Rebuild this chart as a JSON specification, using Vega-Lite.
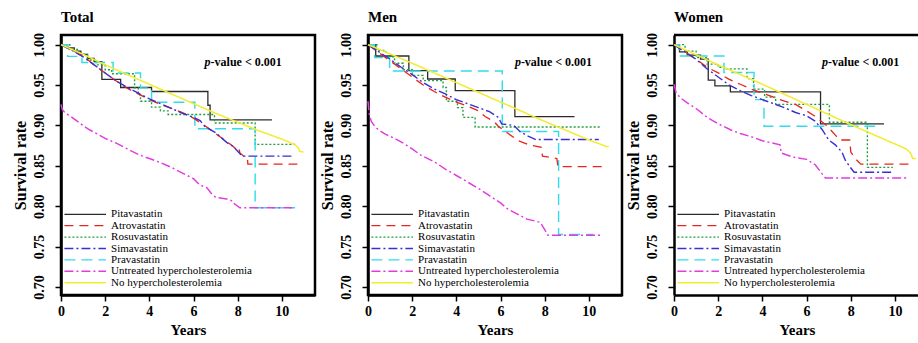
{
"$schema": "https://vega.github.io/schema/vega-lite/v6.json",
"padding": {"left": 10, "top": 9, "right": 0, "bottom": 5},
"background": "white",
"spacing": 0,
"config": {
  "font": "Liberation Serif",
  "view": {"stroke": "black", "strokeWidth": 2.5},
  "axis": {"grid": false, "labelFont": "Liberation Serif", "labelFontWeight": "bold", "labelFontSize": 14, "labelColor": "black", "titleFont": "Liberation Serif", "titleFontWeight": "bold", "titleColor": "black", "tickColor": "black", "tickWidth": 1.5, "tickSize": 6, "domainColor": "black", "domainWidth": 2.5, "labelFlush": false},
  "axisY": {"labelPadding": 9},
  "title": {"anchor": "start", "frame": "group", "fontSize": 15, "font": "Liberation Serif", "fontWeight": "bold", "color": "black", "offset": 7},
  "text": {"font": "Liberation Serif"},
  "legend": {"labelFont": "Liberation Serif", "labelFontSize": 11, "labelColor": "black"}
},
"datasets": {"km": [
{"p":"Total","g":"Pitavastatin","t":0,"s":1},{"p":"Total","g":"Pitavastatin","t":0.3,"s":0.996},{"p":"Total","g":"Pitavastatin","t":0.6,"s":0.992},{"p":"Total","g":"Pitavastatin","t":0.9,"s":0.988},{"p":"Total","g":"Pitavastatin","t":1.2,"s":0.983},{"p":"Total","g":"Pitavastatin","t":1.5,"s":0.979},{"p":"Total","g":"Pitavastatin","t":1.85,"s":0.957},{"p":"Total","g":"Pitavastatin","t":2.7,"s":0.947},{"p":"Total","g":"Pitavastatin","t":4.1,"s":0.942},{"p":"Total","g":"Pitavastatin","t":6.65,"s":0.925},{"p":"Total","g":"Pitavastatin","t":6.75,"s":0.907},{"p":"Total","g":"Pitavastatin","t":9.55,"s":0.907},
{"p":"Total","g":"Atrovastatin","t":0,"s":1},{"p":"Total","g":"Atrovastatin","t":0.5,"s":0.993},{"p":"Total","g":"Atrovastatin","t":1,"s":0.986},{"p":"Total","g":"Atrovastatin","t":1.5,"s":0.975},{"p":"Total","g":"Atrovastatin","t":2,"s":0.965},{"p":"Total","g":"Atrovastatin","t":2.5,"s":0.955},{"p":"Total","g":"Atrovastatin","t":3,"s":0.946},{"p":"Total","g":"Atrovastatin","t":3.5,"s":0.939},{"p":"Total","g":"Atrovastatin","t":4,"s":0.932},{"p":"Total","g":"Atrovastatin","t":4.5,"s":0.926},{"p":"Total","g":"Atrovastatin","t":5,"s":0.921},{"p":"Total","g":"Atrovastatin","t":5.5,"s":0.916},{"p":"Total","g":"Atrovastatin","t":6,"s":0.909},{"p":"Total","g":"Atrovastatin","t":6.5,"s":0.9},{"p":"Total","g":"Atrovastatin","t":7,"s":0.89},{"p":"Total","g":"Atrovastatin","t":7.5,"s":0.88},{"p":"Total","g":"Atrovastatin","t":7.8,"s":0.874},{"p":"Total","g":"Atrovastatin","t":7.95,"s":0.87},{"p":"Total","g":"Atrovastatin","t":8.05,"s":0.872},{"p":"Total","g":"Atrovastatin","t":8.1,"s":0.866},{"p":"Total","g":"Atrovastatin","t":8.35,"s":0.86},{"p":"Total","g":"Atrovastatin","t":8.44,"s":0.86},{"p":"Total","g":"Atrovastatin","t":8.46,"s":0.852},{"p":"Total","g":"Atrovastatin","t":10.7,"s":0.852},
{"p":"Total","g":"Rosuvastatin","t":0,"s":1},{"p":"Total","g":"Rosuvastatin","t":0.4,"s":0.994},{"p":"Total","g":"Rosuvastatin","t":0.8,"s":0.988},{"p":"Total","g":"Rosuvastatin","t":1.2,"s":0.981},{"p":"Total","g":"Rosuvastatin","t":1.6,"s":0.975},{"p":"Total","g":"Rosuvastatin","t":2,"s":0.969},{"p":"Total","g":"Rosuvastatin","t":2.3,"s":0.964},{"p":"Total","g":"Rosuvastatin","t":3.33,"s":0.9465},{"p":"Total","g":"Rosuvastatin","t":3.5,"s":0.938},{"p":"Total","g":"Rosuvastatin","t":3.6,"s":0.93},{"p":"Total","g":"Rosuvastatin","t":4.1,"s":0.9226},{"p":"Total","g":"Rosuvastatin","t":4.5,"s":0.918},{"p":"Total","g":"Rosuvastatin","t":4.85,"s":0.9136},{"p":"Total","g":"Rosuvastatin","t":6.95,"s":0.903},{"p":"Total","g":"Rosuvastatin","t":8.79,"s":0.8766},{"p":"Total","g":"Rosuvastatin","t":10.6,"s":0.8766},
{"p":"Total","g":"Simavastatin","t":0,"s":1},{"p":"Total","g":"Simavastatin","t":0.5,"s":0.993},{"p":"Total","g":"Simavastatin","t":1,"s":0.985},{"p":"Total","g":"Simavastatin","t":1.5,"s":0.975},{"p":"Total","g":"Simavastatin","t":2,"s":0.965},{"p":"Total","g":"Simavastatin","t":2.5,"s":0.955},{"p":"Total","g":"Simavastatin","t":3,"s":0.947},{"p":"Total","g":"Simavastatin","t":3.5,"s":0.94},{"p":"Total","g":"Simavastatin","t":4,"s":0.933},{"p":"Total","g":"Simavastatin","t":4.5,"s":0.927},{"p":"Total","g":"Simavastatin","t":5,"s":0.921},{"p":"Total","g":"Simavastatin","t":5.5,"s":0.915},{"p":"Total","g":"Simavastatin","t":6,"s":0.91},{"p":"Total","g":"Simavastatin","t":6.3,"s":0.906},{"p":"Total","g":"Simavastatin","t":6.5,"s":0.899},{"p":"Total","g":"Simavastatin","t":7,"s":0.891},{"p":"Total","g":"Simavastatin","t":7.5,"s":0.879},{"p":"Total","g":"Simavastatin","t":7.8,"s":0.874},{"p":"Total","g":"Simavastatin","t":8,"s":0.868},{"p":"Total","g":"Simavastatin","t":8.2,"s":0.862},{"p":"Total","g":"Simavastatin","t":10.55,"s":0.862},
{"p":"Total","g":"Pravastatin","t":0,"s":1},{"p":"Total","g":"Pravastatin","t":0.3,"s":0.9855},{"p":"Total","g":"Pravastatin","t":0.95,"s":0.978},{"p":"Total","g":"Pravastatin","t":2.36,"s":0.965},{"p":"Total","g":"Pravastatin","t":3.6,"s":0.9465},{"p":"Total","g":"Pravastatin","t":4.1,"s":0.9287},{"p":"Total","g":"Pravastatin","t":6.06,"s":0.896},{"p":"Total","g":"Pravastatin","t":8.79,"s":0.798},{"p":"Total","g":"Pravastatin","t":10.6,"s":0.798},
{"p":"Total","g":"Untreated hypercholesterolemia","t":0,"s":0.926},{"p":"Total","g":"Untreated hypercholesterolemia","t":0.05,"s":0.92},{"p":"Total","g":"Untreated hypercholesterolemia","t":0.2,"s":0.915},{"p":"Total","g":"Untreated hypercholesterolemia","t":0.45,"s":0.911},{"p":"Total","g":"Untreated hypercholesterolemia","t":0.8,"s":0.904},{"p":"Total","g":"Untreated hypercholesterolemia","t":1.2,"s":0.896},{"p":"Total","g":"Untreated hypercholesterolemia","t":1.6,"s":0.89},{"p":"Total","g":"Untreated hypercholesterolemia","t":2,"s":0.884},{"p":"Total","g":"Untreated hypercholesterolemia","t":2.5,"s":0.878},{"p":"Total","g":"Untreated hypercholesterolemia","t":3,"s":0.871},{"p":"Total","g":"Untreated hypercholesterolemia","t":3.5,"s":0.864},{"p":"Total","g":"Untreated hypercholesterolemia","t":4,"s":0.859},{"p":"Total","g":"Untreated hypercholesterolemia","t":4.5,"s":0.854},{"p":"Total","g":"Untreated hypercholesterolemia","t":5,"s":0.848},{"p":"Total","g":"Untreated hypercholesterolemia","t":5.5,"s":0.841},{"p":"Total","g":"Untreated hypercholesterolemia","t":6,"s":0.834},{"p":"Total","g":"Untreated hypercholesterolemia","t":6.3,"s":0.826},{"p":"Total","g":"Untreated hypercholesterolemia","t":6.6,"s":0.823},{"p":"Total","g":"Untreated hypercholesterolemia","t":6.8,"s":0.816},{"p":"Total","g":"Untreated hypercholesterolemia","t":7,"s":0.811},{"p":"Total","g":"Untreated hypercholesterolemia","t":7.5,"s":0.809},{"p":"Total","g":"Untreated hypercholesterolemia","t":7.8,"s":0.806},{"p":"Total","g":"Untreated hypercholesterolemia","t":7.85,"s":0.803},{"p":"Total","g":"Untreated hypercholesterolemia","t":8.1,"s":0.798},{"p":"Total","g":"Untreated hypercholesterolemia","t":10.6,"s":0.798},
{"p":"Total","g":"No hypercholesterolemia","t":0,"s":1},{"p":"Total","g":"No hypercholesterolemia","t":1,"s":0.988},{"p":"Total","g":"No hypercholesterolemia","t":2,"s":0.975},{"p":"Total","g":"No hypercholesterolemia","t":3,"s":0.963},{"p":"Total","g":"No hypercholesterolemia","t":4,"s":0.951},{"p":"Total","g":"No hypercholesterolemia","t":5,"s":0.939},{"p":"Total","g":"No hypercholesterolemia","t":6,"s":0.927},{"p":"Total","g":"No hypercholesterolemia","t":7,"s":0.915},{"p":"Total","g":"No hypercholesterolemia","t":8,"s":0.904},{"p":"Total","g":"No hypercholesterolemia","t":9,"s":0.893},{"p":"Total","g":"No hypercholesterolemia","t":10,"s":0.883},{"p":"Total","g":"No hypercholesterolemia","t":10.6,"s":0.876},{"p":"Total","g":"No hypercholesterolemia","t":10.75,"s":0.872},{"p":"Total","g":"No hypercholesterolemia","t":10.8,"s":0.868},{"p":"Total","g":"No hypercholesterolemia","t":10.98,"s":0.867},

{"p":"Men","g":"Pitavastatin","t":0,"s":1},{"p":"Men","g":"Pitavastatin","t":0.35,"s":0.986},{"p":"Men","g":"Pitavastatin","t":1.85,"s":0.968},{"p":"Men","g":"Pitavastatin","t":2.7,"s":0.9575},{"p":"Men","g":"Pitavastatin","t":3.95,"s":0.943},{"p":"Men","g":"Pitavastatin","t":6.65,"s":0.911},{"p":"Men","g":"Pitavastatin","t":9.35,"s":0.911},
{"p":"Men","g":"Atrovastatin","t":0,"s":1},{"p":"Men","g":"Atrovastatin","t":0.5,"s":0.99},{"p":"Men","g":"Atrovastatin","t":1,"s":0.98},{"p":"Men","g":"Atrovastatin","t":1.5,"s":0.97},{"p":"Men","g":"Atrovastatin","t":2,"s":0.96},{"p":"Men","g":"Atrovastatin","t":2.5,"s":0.95},{"p":"Men","g":"Atrovastatin","t":3,"s":0.942},{"p":"Men","g":"Atrovastatin","t":3.5,"s":0.935},{"p":"Men","g":"Atrovastatin","t":4,"s":0.929},{"p":"Men","g":"Atrovastatin","t":4.5,"s":0.924},{"p":"Men","g":"Atrovastatin","t":5,"s":0.918},{"p":"Men","g":"Atrovastatin","t":5.3,"s":0.911},{"p":"Men","g":"Atrovastatin","t":5.7,"s":0.905},{"p":"Men","g":"Atrovastatin","t":5.9,"s":0.899},{"p":"Men","g":"Atrovastatin","t":6.3,"s":0.891},{"p":"Men","g":"Atrovastatin","t":6.8,"s":0.881},{"p":"Men","g":"Atrovastatin","t":7.3,"s":0.876},{"p":"Men","g":"Atrovastatin","t":7.85,"s":0.873},{"p":"Men","g":"Atrovastatin","t":7.9,"s":0.862},{"p":"Men","g":"Atrovastatin","t":8.55,"s":0.859},{"p":"Men","g":"Atrovastatin","t":8.6,"s":0.849},{"p":"Men","g":"Atrovastatin","t":10.75,"s":0.849},
{"p":"Men","g":"Rosuvastatin","t":0,"s":1},{"p":"Men","g":"Rosuvastatin","t":0.4,"s":0.993},{"p":"Men","g":"Rosuvastatin","t":0.8,"s":0.985},{"p":"Men","g":"Rosuvastatin","t":1.2,"s":0.977},{"p":"Men","g":"Rosuvastatin","t":1.6,"s":0.969},{"p":"Men","g":"Rosuvastatin","t":2,"s":0.962},{"p":"Men","g":"Rosuvastatin","t":2.5,"s":0.9555},{"p":"Men","g":"Rosuvastatin","t":3.4,"s":0.947},{"p":"Men","g":"Rosuvastatin","t":3.55,"s":0.93},{"p":"Men","g":"Rosuvastatin","t":4.05,"s":0.922},{"p":"Men","g":"Rosuvastatin","t":4.3,"s":0.91},{"p":"Men","g":"Rosuvastatin","t":4.85,"s":0.898},{"p":"Men","g":"Rosuvastatin","t":10.5,"s":0.898},
{"p":"Men","g":"Simavastatin","t":0,"s":1},{"p":"Men","g":"Simavastatin","t":0.5,"s":0.991},{"p":"Men","g":"Simavastatin","t":1,"s":0.982},{"p":"Men","g":"Simavastatin","t":1.5,"s":0.972},{"p":"Men","g":"Simavastatin","t":2,"s":0.963},{"p":"Men","g":"Simavastatin","t":2.5,"s":0.953},{"p":"Men","g":"Simavastatin","t":3,"s":0.945},{"p":"Men","g":"Simavastatin","t":3.5,"s":0.939},{"p":"Men","g":"Simavastatin","t":4,"s":0.932},{"p":"Men","g":"Simavastatin","t":4.5,"s":0.927},{"p":"Men","g":"Simavastatin","t":5,"s":0.922},{"p":"Men","g":"Simavastatin","t":5.5,"s":0.917},{"p":"Men","g":"Simavastatin","t":5.9,"s":0.91},{"p":"Men","g":"Simavastatin","t":6.05,"s":0.902},{"p":"Men","g":"Simavastatin","t":6.6,"s":0.9},{"p":"Men","g":"Simavastatin","t":6.9,"s":0.892},{"p":"Men","g":"Simavastatin","t":7.3,"s":0.886},{"p":"Men","g":"Simavastatin","t":7.6,"s":0.8825},{"p":"Men","g":"Simavastatin","t":10.45,"s":0.8825},
{"p":"Men","g":"Pravastatin","t":0,"s":1},{"p":"Men","g":"Pravastatin","t":0.3,"s":0.984},{"p":"Men","g":"Pravastatin","t":0.98,"s":0.9675},{"p":"Men","g":"Pravastatin","t":6.08,"s":0.8925},{"p":"Men","g":"Pravastatin","t":8.63,"s":0.765},{"p":"Men","g":"Pravastatin","t":10.2,"s":0.765},
{"p":"Men","g":"Untreated hypercholesterolemia","t":0,"s":0.93},{"p":"Men","g":"Untreated hypercholesterolemia","t":0.05,"s":0.915},{"p":"Men","g":"Untreated hypercholesterolemia","t":0.15,"s":0.905},{"p":"Men","g":"Untreated hypercholesterolemia","t":0.3,"s":0.899},{"p":"Men","g":"Untreated hypercholesterolemia","t":0.5,"s":0.894},{"p":"Men","g":"Untreated hypercholesterolemia","t":0.8,"s":0.889},{"p":"Men","g":"Untreated hypercholesterolemia","t":1.2,"s":0.884},{"p":"Men","g":"Untreated hypercholesterolemia","t":1.6,"s":0.878},{"p":"Men","g":"Untreated hypercholesterolemia","t":2,"s":0.871},{"p":"Men","g":"Untreated hypercholesterolemia","t":2.4,"s":0.863},{"p":"Men","g":"Untreated hypercholesterolemia","t":3,"s":0.855},{"p":"Men","g":"Untreated hypercholesterolemia","t":3.5,"s":0.846},{"p":"Men","g":"Untreated hypercholesterolemia","t":4,"s":0.838},{"p":"Men","g":"Untreated hypercholesterolemia","t":4.5,"s":0.83},{"p":"Men","g":"Untreated hypercholesterolemia","t":5,"s":0.822},{"p":"Men","g":"Untreated hypercholesterolemia","t":5.5,"s":0.813},{"p":"Men","g":"Untreated hypercholesterolemia","t":6,"s":0.804},{"p":"Men","g":"Untreated hypercholesterolemia","t":6.3,"s":0.797},{"p":"Men","g":"Untreated hypercholesterolemia","t":6.7,"s":0.791},{"p":"Men","g":"Untreated hypercholesterolemia","t":7.2,"s":0.784},{"p":"Men","g":"Untreated hypercholesterolemia","t":7.8,"s":0.78},{"p":"Men","g":"Untreated hypercholesterolemia","t":8,"s":0.771},{"p":"Men","g":"Untreated hypercholesterolemia","t":8.15,"s":0.764},{"p":"Men","g":"Untreated hypercholesterolemia","t":10.6,"s":0.764},
{"p":"Men","g":"No hypercholesterolemia","t":0,"s":1},{"p":"Men","g":"No hypercholesterolemia","t":2,"s":0.977},{"p":"Men","g":"No hypercholesterolemia","t":4,"s":0.953},{"p":"Men","g":"No hypercholesterolemia","t":6,"s":0.929},{"p":"Men","g":"No hypercholesterolemia","t":8,"s":0.905},{"p":"Men","g":"No hypercholesterolemia","t":10,"s":0.882},{"p":"Men","g":"No hypercholesterolemia","t":10.6,"s":0.876},{"p":"Men","g":"No hypercholesterolemia","t":10.75,"s":0.874},{"p":"Men","g":"No hypercholesterolemia","t":10.9,"s":0.874},

{"p":"Women","g":"Pitavastatin","t":0,"s":1},{"p":"Women","g":"Pitavastatin","t":0.25,"s":0.991},{"p":"Women","g":"Pitavastatin","t":0.6,"s":0.987},{"p":"Women","g":"Pitavastatin","t":1.2,"s":0.982},{"p":"Women","g":"Pitavastatin","t":1.55,"s":0.956},{"p":"Women","g":"Pitavastatin","t":1.85,"s":0.949},{"p":"Women","g":"Pitavastatin","t":2.55,"s":0.9415},{"p":"Women","g":"Pitavastatin","t":6.63,"s":0.902},{"p":"Women","g":"Pitavastatin","t":9.5,"s":0.902},
{"p":"Women","g":"Atrovastatin","t":0,"s":1},{"p":"Women","g":"Atrovastatin","t":0.5,"s":0.991},{"p":"Women","g":"Atrovastatin","t":1,"s":0.982},{"p":"Women","g":"Atrovastatin","t":1.5,"s":0.972},{"p":"Women","g":"Atrovastatin","t":2,"s":0.965},{"p":"Women","g":"Atrovastatin","t":2.5,"s":0.957},{"p":"Women","g":"Atrovastatin","t":3,"s":0.951},{"p":"Women","g":"Atrovastatin","t":3.5,"s":0.945},{"p":"Women","g":"Atrovastatin","t":4,"s":0.94},{"p":"Women","g":"Atrovastatin","t":4.5,"s":0.935},{"p":"Women","g":"Atrovastatin","t":5,"s":0.93},{"p":"Women","g":"Atrovastatin","t":5.5,"s":0.926},{"p":"Women","g":"Atrovastatin","t":6,"s":0.918},{"p":"Women","g":"Atrovastatin","t":6.4,"s":0.911},{"p":"Women","g":"Atrovastatin","t":6.9,"s":0.9},{"p":"Women","g":"Atrovastatin","t":7.3,"s":0.888},{"p":"Women","g":"Atrovastatin","t":7.5,"s":0.882},{"p":"Women","g":"Atrovastatin","t":7.95,"s":0.882},{"p":"Women","g":"Atrovastatin","t":8,"s":0.867},{"p":"Women","g":"Atrovastatin","t":8.2,"s":0.859},{"p":"Women","g":"Atrovastatin","t":8.45,"s":0.852},{"p":"Women","g":"Atrovastatin","t":10.7,"s":0.852},
{"p":"Women","g":"Rosuvastatin","t":0,"s":1},{"p":"Women","g":"Rosuvastatin","t":0.5,"s":0.992},{"p":"Women","g":"Rosuvastatin","t":1,"s":0.984},{"p":"Women","g":"Rosuvastatin","t":1.5,"s":0.976},{"p":"Women","g":"Rosuvastatin","t":2,"s":0.972},{"p":"Women","g":"Rosuvastatin","t":2.28,"s":0.97},{"p":"Women","g":"Rosuvastatin","t":3.3,"s":0.958},{"p":"Women","g":"Rosuvastatin","t":3.6,"s":0.945},{"p":"Women","g":"Rosuvastatin","t":4.1,"s":0.935},{"p":"Women","g":"Rosuvastatin","t":4.6,"s":0.926},{"p":"Women","g":"Rosuvastatin","t":7.03,"s":0.904},{"p":"Women","g":"Rosuvastatin","t":8.75,"s":0.848},{"p":"Women","g":"Rosuvastatin","t":9.9,"s":0.848},
{"p":"Women","g":"Simavastatin","t":0,"s":1},{"p":"Women","g":"Simavastatin","t":0.5,"s":0.991},{"p":"Women","g":"Simavastatin","t":1,"s":0.982},{"p":"Women","g":"Simavastatin","t":1.5,"s":0.97},{"p":"Women","g":"Simavastatin","t":2,"s":0.96},{"p":"Women","g":"Simavastatin","t":2.5,"s":0.95},{"p":"Women","g":"Simavastatin","t":3,"s":0.943},{"p":"Women","g":"Simavastatin","t":3.5,"s":0.937},{"p":"Women","g":"Simavastatin","t":4,"s":0.932},{"p":"Women","g":"Simavastatin","t":4.5,"s":0.927},{"p":"Women","g":"Simavastatin","t":5,"s":0.922},{"p":"Women","g":"Simavastatin","t":5.5,"s":0.916},{"p":"Women","g":"Simavastatin","t":6,"s":0.912},{"p":"Women","g":"Simavastatin","t":6.4,"s":0.905},{"p":"Women","g":"Simavastatin","t":6.7,"s":0.895},{"p":"Women","g":"Simavastatin","t":7,"s":0.882},{"p":"Women","g":"Simavastatin","t":7.3,"s":0.876},{"p":"Women","g":"Simavastatin","t":7.6,"s":0.867},{"p":"Women","g":"Simavastatin","t":7.75,"s":0.857},{"p":"Women","g":"Simavastatin","t":7.95,"s":0.849},{"p":"Women","g":"Simavastatin","t":8.15,"s":0.842},{"p":"Women","g":"Simavastatin","t":9.9,"s":0.842},
{"p":"Women","g":"Pravastatin","t":0,"s":1},{"p":"Women","g":"Pravastatin","t":0.23,"s":0.986},{"p":"Women","g":"Pravastatin","t":2.26,"s":0.9655},{"p":"Women","g":"Pravastatin","t":3.62,"s":0.932},{"p":"Women","g":"Pravastatin","t":4.07,"s":0.899},{"p":"Women","g":"Pravastatin","t":9.1,"s":0.899},
{"p":"Women","g":"Untreated hypercholesterolemia","t":0,"s":0.951},{"p":"Women","g":"Untreated hypercholesterolemia","t":0.1,"s":0.94},{"p":"Women","g":"Untreated hypercholesterolemia","t":0.3,"s":0.934},{"p":"Women","g":"Untreated hypercholesterolemia","t":0.6,"s":0.928},{"p":"Women","g":"Untreated hypercholesterolemia","t":1,"s":0.921},{"p":"Women","g":"Untreated hypercholesterolemia","t":1.5,"s":0.91},{"p":"Women","g":"Untreated hypercholesterolemia","t":2,"s":0.902},{"p":"Women","g":"Untreated hypercholesterolemia","t":2.6,"s":0.894},{"p":"Women","g":"Untreated hypercholesterolemia","t":3,"s":0.89},{"p":"Women","g":"Untreated hypercholesterolemia","t":3.5,"s":0.886},{"p":"Women","g":"Untreated hypercholesterolemia","t":4,"s":0.881},{"p":"Women","g":"Untreated hypercholesterolemia","t":4.8,"s":0.876},{"p":"Women","g":"Untreated hypercholesterolemia","t":4.85,"s":0.866},{"p":"Women","g":"Untreated hypercholesterolemia","t":5.35,"s":0.861},{"p":"Women","g":"Untreated hypercholesterolemia","t":6,"s":0.858},{"p":"Women","g":"Untreated hypercholesterolemia","t":6.4,"s":0.851},{"p":"Women","g":"Untreated hypercholesterolemia","t":6.7,"s":0.84},{"p":"Women","g":"Untreated hypercholesterolemia","t":6.85,"s":0.835},{"p":"Women","g":"Untreated hypercholesterolemia","t":10.56,"s":0.835},
{"p":"Women","g":"No hypercholesterolemia","t":0,"s":1},{"p":"Women","g":"No hypercholesterolemia","t":2,"s":0.975},{"p":"Women","g":"No hypercholesterolemia","t":4,"s":0.951},{"p":"Women","g":"No hypercholesterolemia","t":6,"s":0.926},{"p":"Women","g":"No hypercholesterolemia","t":8,"s":0.901},{"p":"Women","g":"No hypercholesterolemia","t":10,"s":0.877},{"p":"Women","g":"No hypercholesterolemia","t":10.5,"s":0.871},{"p":"Women","g":"No hypercholesterolemia","t":10.7,"s":0.866},{"p":"Women","g":"No hypercholesterolemia","t":10.8,"s":0.859},{"p":"Women","g":"No hypercholesterolemia","t":10.95,"s":0.859}
]},
"resolve": {"scale": {"color": "independent", "strokeDash": "independent", "strokeWidth": "independent"}, "legend": {"color": "independent", "strokeDash": "independent", "strokeWidth": "independent"}},
"hconcat": [
{
 "title": {"text": "Total"},
 "width": 254, "height": 260,
 "layer": [
  {"data": {"name": "km"}, "transform": [{"filter": "datum.p === 'Total'"}, {"filter": {"field": "g", "oneOf": ["Pitavastatin", "Rosuvastatin", "Pravastatin"]}}],
   "mark": {"type": "line", "interpolate": "step-after"},
   "encoding": {
    "x": {"field": "t", "type": "quantitative", "scale": {"domain": [0, 11.5], "nice": false, "zero": false}, "axis": {"values": [0, 2, 4, 6, 8, 10], "title": "Years", "titleFontSize": 15, "labelPadding": 3, "titlePadding": 4}},
    "y": {"field": "s", "type": "quantitative", "scale": {"domain": [0.69, 1.012], "nice": false, "zero": false}, "axis": {"values": [0.7, 0.75, 0.8, 0.85, 0.9, 0.95, 1.0], "format": ".2f", "labelAngle": -90, "title": "Survival rate", "titleFontSize": 16}},
    "color": {"field": "g", "type": "nominal", "scale": {"domain": ["Pitavastatin", "Atrovastatin", "Rosuvastatin", "Simavastatin", "Pravastatin", "Untreated hypercholesterolemia", "No hypercholesterolemia"], "range": ["#2b2b2b", "#e8251f", "#1f9e3c", "#3a2fd0", "#33dcec", "#e03ce0", "#f2ec2c"]}, "legend": {"orient": "none", "legendX": 18.7, "legendY": 173.8, "title": null, "symbolType": "M-4.9,0H4.9", "symbolSize": 72, "labelFontSize": 11, "labelOffset": 20.4, "rowPadding": -0.6, "labelLimit": 300, "padding": 0}},
    "strokeDash": {"field": "g", "type": "nominal", "scale": {"domain": ["Pitavastatin", "Atrovastatin", "Rosuvastatin", "Simavastatin", "Pravastatin", "Untreated hypercholesterolemia", "No hypercholesterolemia"], "range": [[1, 0], [9, 6], [2, 2], [9, 3, 2, 3], [11, 6], [9, 3, 2, 3], [1, 0]]}},
    "strokeWidth": {"field": "g", "type": "nominal", "scale": {"domain": ["Pitavastatin", "Atrovastatin", "Rosuvastatin", "Simavastatin", "Pravastatin", "Untreated hypercholesterolemia", "No hypercholesterolemia"], "range": [1.3, 1.5, 1.8, 1.5, 1.5, 1.5, 2.2]}}
   }},
  {"data": {"name": "km"}, "transform": [{"filter": "datum.p === 'Total'"}, {"filter": {"field": "g", "oneOf": ["Atrovastatin", "Simavastatin", "Untreated hypercholesterolemia", "No hypercholesterolemia"]}}],
   "mark": {"type": "line"},
   "encoding": {
    "x": {"field": "t", "type": "quantitative"},
    "y": {"field": "s", "type": "quantitative"},
    "color": {"field": "g", "type": "nominal"},
    "strokeDash": {"field": "g", "type": "nominal"},
    "strokeWidth": {"field": "g", "type": "nominal"}
   }},
  {"data": {"values": [{}]}, "mark": {"type": "text", "text": "p", "fontStyle": "italic", "fontWeight": "bold", "fontSize": 12, "align": "left", "baseline": "middle", "color": "black"}, "encoding": {"x": {"datum": 6.5}, "y": {"datum": 0.979}}},
  {"data": {"values": [{}]}, "mark": {"type": "text", "text": "-value < 0.001", "fontWeight": "bold", "fontSize": 12, "align": "left", "baseline": "middle", "dx": 6, "color": "black"}, "encoding": {"x": {"datum": 6.5}, "y": {"datum": 0.979}}}
 ]
},
{
 "title": {"text": "Men"},
 "width": 254, "height": 260,
 "layer": [
  {"data": {"name": "km"}, "transform": [{"filter": "datum.p === 'Men'"}, {"filter": {"field": "g", "oneOf": ["Pitavastatin", "Rosuvastatin", "Pravastatin"]}}],
   "mark": {"type": "line", "interpolate": "step-after"},
   "encoding": {
    "x": {"field": "t", "type": "quantitative", "scale": {"domain": [0, 11.5], "nice": false, "zero": false}, "axis": {"values": [0, 2, 4, 6, 8, 10], "title": "Years", "titleFontSize": 15, "labelPadding": 3, "titlePadding": 4}},
    "y": {"field": "s", "type": "quantitative", "scale": {"domain": [0.69, 1.012], "nice": false, "zero": false}, "axis": {"values": [0.7, 0.75, 0.8, 0.85, 0.9, 0.95, 1.0], "format": ".2f", "labelAngle": -90, "title": "Survival rate", "titleFontSize": 16}},
    "color": {"field": "g", "type": "nominal", "scale": {"domain": ["Pitavastatin", "Atrovastatin", "Rosuvastatin", "Simavastatin", "Pravastatin", "Untreated hypercholesterolemia", "No hypercholesterolemia"], "range": ["#2b2b2b", "#e8251f", "#1f9e3c", "#3a2fd0", "#33dcec", "#e03ce0", "#f2ec2c"]}, "legend": {"orient": "none", "legendX": 18.7, "legendY": 173.8, "title": null, "symbolType": "M-4.9,0H4.9", "symbolSize": 72, "labelFontSize": 11, "labelOffset": 20.4, "rowPadding": -0.6, "labelLimit": 300, "padding": 0}},
    "strokeDash": {"field": "g", "type": "nominal", "scale": {"domain": ["Pitavastatin", "Atrovastatin", "Rosuvastatin", "Simavastatin", "Pravastatin", "Untreated hypercholesterolemia", "No hypercholesterolemia"], "range": [[1, 0], [9, 6], [2, 2], [9, 3, 2, 3], [11, 6], [9, 3, 2, 3], [1, 0]]}},
    "strokeWidth": {"field": "g", "type": "nominal", "scale": {"domain": ["Pitavastatin", "Atrovastatin", "Rosuvastatin", "Simavastatin", "Pravastatin", "Untreated hypercholesterolemia", "No hypercholesterolemia"], "range": [1.3, 1.5, 1.8, 1.5, 1.5, 1.5, 2.2]}}
   }},
  {"data": {"name": "km"}, "transform": [{"filter": "datum.p === 'Men'"}, {"filter": {"field": "g", "oneOf": ["Atrovastatin", "Simavastatin", "Untreated hypercholesterolemia", "No hypercholesterolemia"]}}],
   "mark": {"type": "line"},
   "encoding": {
    "x": {"field": "t", "type": "quantitative"},
    "y": {"field": "s", "type": "quantitative"},
    "color": {"field": "g", "type": "nominal"},
    "strokeDash": {"field": "g", "type": "nominal"},
    "strokeWidth": {"field": "g", "type": "nominal"}
   }},
  {"data": {"values": [{}]}, "mark": {"type": "text", "text": "p", "fontStyle": "italic", "fontWeight": "bold", "fontSize": 12, "align": "left", "baseline": "middle", "color": "black"}, "encoding": {"x": {"datum": 6.65}, "y": {"datum": 0.979}}},
  {"data": {"values": [{}]}, "mark": {"type": "text", "text": "-value < 0.001", "fontWeight": "bold", "fontSize": 12, "align": "left", "baseline": "middle", "dx": 6, "color": "black"}, "encoding": {"x": {"datum": 6.65}, "y": {"datum": 0.979}}}
 ]
},
{
 "title": {"text": "Women"},
 "width": 246, "height": 260,
 "view": {"stroke": null},
 "layer": [
  {"data": {"name": "km"}, "transform": [{"filter": "datum.p === 'Women'"}, {"filter": {"field": "g", "oneOf": ["Pitavastatin", "Rosuvastatin", "Pravastatin"]}}],
   "mark": {"type": "line", "interpolate": "step-after"},
   "encoding": {
    "x": {"field": "t", "type": "quantitative", "scale": {"domain": [0, 11.13], "nice": false, "zero": false}, "axis": {"values": [0, 2, 4, 6, 8, 10], "title": "Years", "titleFontSize": 15, "labelPadding": 3, "titlePadding": 4}},
    "y": {"field": "s", "type": "quantitative", "scale": {"domain": [0.69, 1.012], "nice": false, "zero": false}, "axis": {"values": [0.7, 0.75, 0.8, 0.85, 0.9, 0.95, 1.0], "format": ".2f", "labelAngle": -90, "title": "Survival rate", "titleFontSize": 16}},
    "color": {"field": "g", "type": "nominal", "scale": {"domain": ["Pitavastatin", "Atrovastatin", "Rosuvastatin", "Simavastatin", "Pravastatin", "Untreated hypercholesterolemia", "No hypercholesterolemia"], "range": ["#2b2b2b", "#e8251f", "#1f9e3c", "#3a2fd0", "#33dcec", "#e03ce0", "#f2ec2c"]}, "legend": {"orient": "none", "legendX": 18.7, "legendY": 173.8, "title": null, "symbolType": "M-4.9,0H4.9", "symbolSize": 72, "labelFontSize": 11, "labelOffset": 20.4, "rowPadding": -0.6, "labelLimit": 300, "padding": 0}},
    "strokeDash": {"field": "g", "type": "nominal", "scale": {"domain": ["Pitavastatin", "Atrovastatin", "Rosuvastatin", "Simavastatin", "Pravastatin", "Untreated hypercholesterolemia", "No hypercholesterolemia"], "range": [[1, 0], [9, 6], [2, 2], [9, 3, 2, 3], [11, 6], [9, 3, 2, 3], [1, 0]]}},
    "strokeWidth": {"field": "g", "type": "nominal", "scale": {"domain": ["Pitavastatin", "Atrovastatin", "Rosuvastatin", "Simavastatin", "Pravastatin", "Untreated hypercholesterolemia", "No hypercholesterolemia"], "range": [1.3, 1.5, 1.8, 1.5, 1.5, 1.5, 2.2]}}
   }},
  {"data": {"name": "km"}, "transform": [{"filter": "datum.p === 'Women'"}, {"filter": {"field": "g", "oneOf": ["Atrovastatin", "Simavastatin", "Untreated hypercholesterolemia", "No hypercholesterolemia"]}}],
   "mark": {"type": "line"},
   "encoding": {
    "x": {"field": "t", "type": "quantitative"},
    "y": {"field": "s", "type": "quantitative"},
    "color": {"field": "g", "type": "nominal"},
    "strokeDash": {"field": "g", "type": "nominal"},
    "strokeWidth": {"field": "g", "type": "nominal"}
   }},
  {"data": {"values": [{}]}, "mark": {"type": "rule", "color": "black", "strokeWidth": 2.5}, "encoding": {"y": {"datum": 1.012}}},
  {"data": {"values": [{}]}, "mark": {"type": "text", "text": "p", "fontStyle": "italic", "fontWeight": "bold", "fontSize": 12, "align": "left", "baseline": "middle", "color": "black"}, "encoding": {"x": {"datum": 6.7}, "y": {"datum": 0.979}}},
  {"data": {"values": [{}]}, "mark": {"type": "text", "text": "-value < 0.001", "fontWeight": "bold", "fontSize": 12, "align": "left", "baseline": "middle", "dx": 6, "color": "black"}, "encoding": {"x": {"datum": 6.7}, "y": {"datum": 0.979}}}
 ]
}
]
}
